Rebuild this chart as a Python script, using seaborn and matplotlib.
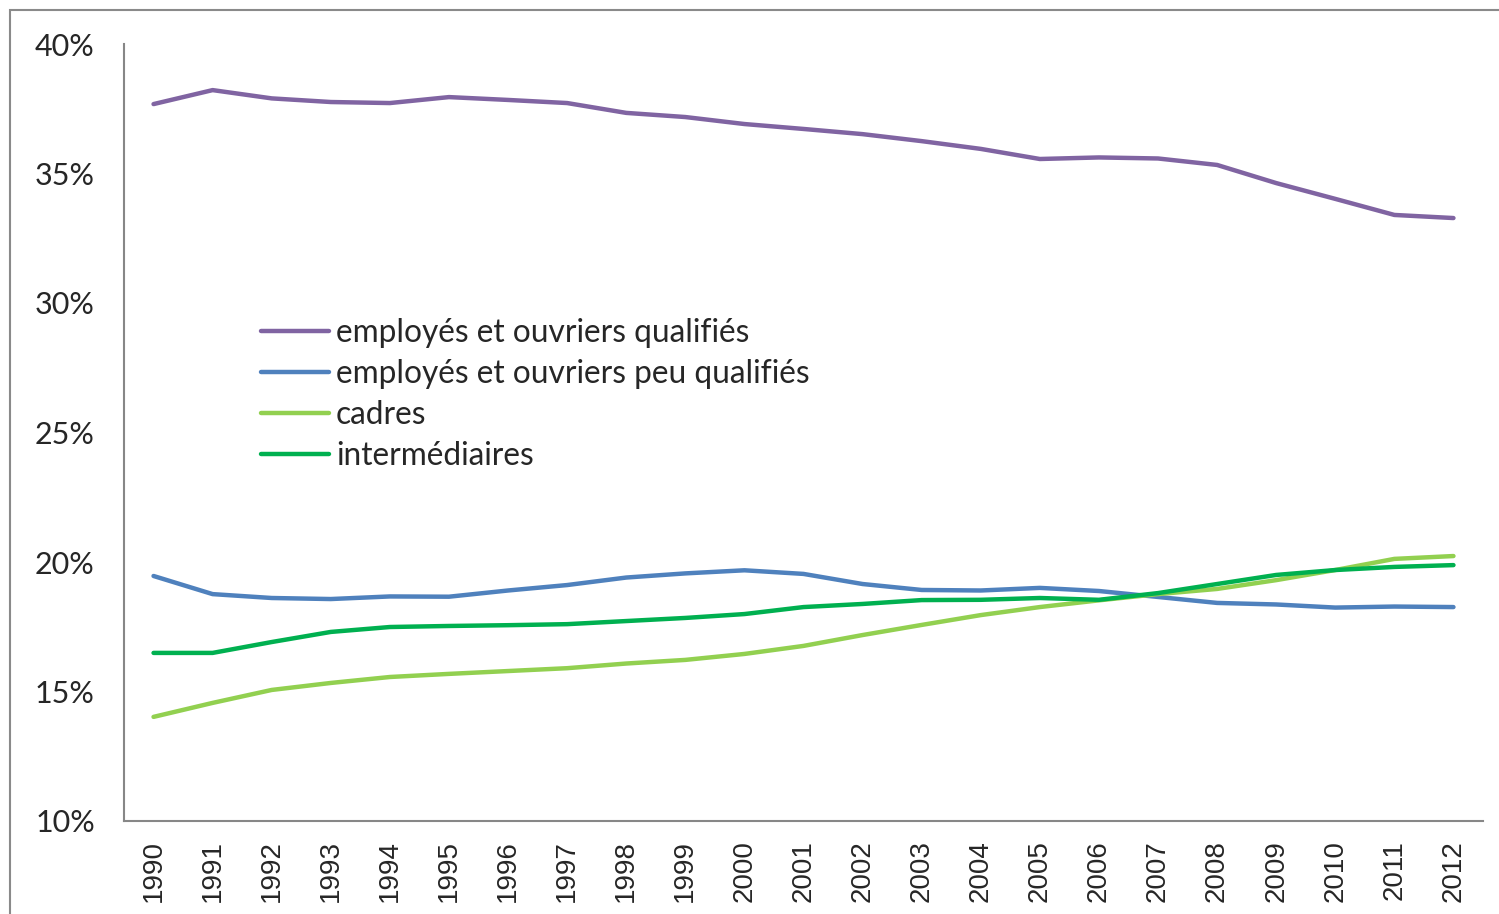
import numpy as np
import matplotlib
matplotlib.use("Agg")
import matplotlib.pyplot as plt
import matplotlib.patches as mpatches
from matplotlib.ticker import FixedLocator, PercentFormatter
import pandas as pd
import seaborn as sns

# données (en %)
annees = [str(a) for a in range(1990, 2013)]
series = ["employés et ouvriers qualifiés", "employés et ouvriers peu qualifiés",
          "cadres", "intermédiaires"]
qualifies = [37.68, 38.22, 37.90, 37.76, 37.72, 37.95, 37.84, 37.72, 37.34, 37.18, 36.91, 36.72,
             36.52, 36.25, 35.95, 35.56, 35.62, 35.58, 35.33, 34.63, 34.02, 33.40, 33.28]
peu_qualifies = [19.46, 18.76, 18.61, 18.57, 18.67, 18.66, 18.90, 19.11, 19.40, 19.56, 19.68, 19.54,
                 19.15, 18.92, 18.90, 19.00, 18.88, 18.65, 18.42, 18.36, 18.24, 18.28, 18.26]
cadres = [14.02, 14.56, 15.06, 15.33, 15.56, 15.68, 15.79, 15.90, 16.08, 16.22, 16.45, 16.76,
          17.18, 17.57, 17.95, 18.26, 18.52, 18.76, 18.96, 19.30, 19.69, 20.12, 20.23]
intermediaires = [16.49, 16.49, 16.91, 17.30, 17.49, 17.53, 17.56, 17.60, 17.72, 17.84, 17.99, 18.26,
                  18.38, 18.53, 18.54, 18.61, 18.54, 18.80, 19.15, 19.50, 19.69, 19.81, 19.88]
couleurs = ["#8064A2", "#4F81BD", "#92D050", "#00B050"]

df = pd.DataFrame({
    "pos": list(range(len(annees))) * 4,
    "valeur": qualifies + peu_qualifies + cadres + intermediaires,
    "serie": sum([[s] * len(annees) for s in series], []),
})

sns.set_style("white")
plt.rcParams["font.family"] = ["Lato", "DejaVu Sans"]

fig = plt.figure(figsize=(14.99, 9.14), dpi=100)
ax = fig.add_axes([124 / 1499, 1 - 821 / 914, (1483 - 124) / 1499, (821 - 44) / 914])

sns.lineplot(data=df, x="pos", y="valeur", hue="serie", hue_order=series,
             palette=couleurs, linewidth=3.2, ax=ax)

ax.set_xlim(-0.5, len(annees) - 0.5)
ax.set_ylim(10, 40)
ax.set_yticks(range(10, 41, 5))
ax.yaxis.set_major_formatter(PercentFormatter(decimals=0))
ax.set_xticks(range(len(annees)))
ax.set_xticklabels(annees, rotation=90, fontsize=20, family="Liberation Sans")
ax.xaxis.set_minor_locator(FixedLocator(np.arange(-0.5, len(annees), 1)))
ax.tick_params(axis="x", which="major", length=0, pad=14)
ax.tick_params(axis="x", which="minor", length=8, width=1.5, color="#878787", direction="out")
ax.tick_params(axis="y", length=9, width=1.5, color="#878787", direction="out", labelsize=22, pad=12)
ax.set_xlabel("")
ax.set_ylabel("")

for s in ["top", "right"]:
    ax.spines[s].set_visible(False)
for s in ["left", "bottom"]:
    ax.spines[s].set_color("#878787")
    ax.spines[s].set_linewidth(1.5)

ax.legend(loc="upper left", bbox_to_anchor=(261 / 1499, 1 - 318 / 914),
          bbox_transform=fig.transFigure, frameon=False, fontsize=22.8,
          handlelength=2.15, handletextpad=0.22, labelspacing=0.35,
          borderpad=0, borderaxespad=0)

# cadre extérieur du graphique
fig.patches.append(mpatches.Rectangle((10 / 1499, -0.2), 2, 1.2 - 10 / 914,
                                      transform=fig.transFigure, fill=False,
                                      edgecolor="#8a8a8a", linewidth=1.5))

fig.savefig("out.png", dpi=100)
